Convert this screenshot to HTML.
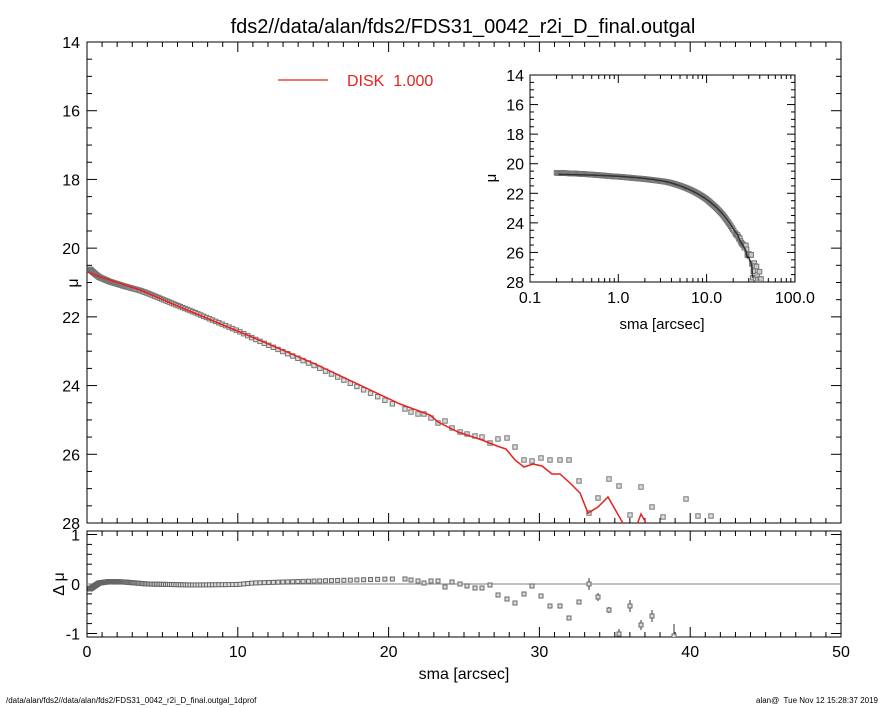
<!DOCTYPE html>
<html><head><meta charset="utf-8"><style>
html,body{margin:0;padding:0;background:#fff;}
svg{display:block;font-family:"Liberation Sans",Arial,sans-serif;}
</style></head><body>
<svg id="s" width="885" height="708" viewBox="0 0 885 708" xmlns="http://www.w3.org/2000/svg">
<defs>
<clipPath id="cm"><rect x="87" y="42" width="754" height="481"/></clipPath>
<clipPath id="ci"><rect x="530" y="75" width="265" height="207"/></clipPath>
<clipPath id="cr"><rect x="87" y="531" width="754" height="106"/></clipPath>
</defs>
<text x="463" y="33" font-size="20" text-anchor="middle">fds2//data/alan/fds2/FDS31_0042_r2i_D_final.outgal</text>
<g id="g"></g>
<line x1="278" y1="80" x2="328" y2="80" stroke="#e8211d" stroke-width="1.2"/>
<text x="347" y="86" font-size="16" fill="#e8211d">DISK&#160; 1.000</text>
<text x="6" y="703" font-size="8">/data/alan/fds2//data/alan/fds2/FDS31_0042_r2i_D_final.outgal_1dprof</text>
<text x="878" y="703" font-size="8" text-anchor="end">alan@&#160; Tue Nov 12 15:28:37 2019</text>
<text x="464" y="679" font-size="16" text-anchor="middle">sma [arcsec]</text>
<text x="662" y="329" font-size="15" text-anchor="middle">sma [arcsec]</text>
<text transform="translate(78,283) rotate(-90)" font-size="16" text-anchor="middle">μ</text>
<text transform="translate(496,178) rotate(-90)" font-size="15" text-anchor="middle">μ</text>
<text transform="translate(64,584) rotate(-90)" font-size="16" text-anchor="middle">Δ μ</text>
</svg>
<script>
var G=document.getElementById("g"),out="";
function L(a,b,c,d,w,col){out+='<line x1="'+a+'" y1="'+b+'" x2="'+c+'" y2="'+d+'" stroke="'+(col||"#000")+'" stroke-width="'+(w||1)+'"/>';}
function T(x,y,t,fs,anc){out+='<text x="'+x+'" y="'+y+'" font-size="'+fs+'" text-anchor="'+(anc||"middle")+'">'+t+'</text>';}
function interp(tab,x){if(x<=tab[0][0])return tab[0][1];for(var i=1;i<tab.length;i++){if(x<=tab[i][0]){var a=tab[i-1],b=tab[i];return a[1]+(b[1]-a[1])*(x-a[0])/(b[0]-a[0]);}}return tab[tab.length-1][1];}
out+='<rect x="87" y="42" width="754" height="481" fill="none" stroke="#000" stroke-width="1"/>';
for(var v=14;v<=28;v+=0.5){var y=42+(v-14)*34.357;var maj=(v%2==0);var l=maj?10:5;L(87,y,87+l,y);L(841,y,841-l,y);if(maj)T(80,y+6,v,16,"end");}
for(var s=0;s<=50;s++){var x=87+s*15.08;var maj=(s%10==0);var l=maj?10:5;L(x,523,x,523-l);L(x,42,x,42+l);L(x,531,x,531+l);L(x,637,x,637-l);if(maj)T(x,657,s,16);}
out+='<rect x="87" y="531" width="754" height="106" fill="none" stroke="#000" stroke-width="1"/>';
for(var v=-1;v<=1.001;v+=0.2){var y=584-v*49.5;var maj=Math.abs(v-Math.round(v))<0.01;var l=maj?10:5;L(87,y,87+l,y);L(841,y,841-l,y);if(maj)T(80,y+6,Math.round(v),16,"end");}
L(87,584,841,584,1.2,"#999");
var red=[[88,272],[95,275],[140,290],[180,307],[247,335],[313,363],[400,404],[430,415],[438,422],[458,432],[482,440],[497,446],[506,449],[515,460],[524,467],[533,464],[542,466],[552,474],[560,474],[570,483],[580,493],[588,513],[598,507],[608,497],[620,518],[627,530],[635,530],[641,514],[650,530]];
var resT=[[0.2,-0.1],[0.4,-0.06],[0.8,0.02],[1.5,0.05],[2.5,0.04],[4,0],[7,-0.02],[10,-0.01],[11,0.02],[14,0.05],[20,0.1],[21,0.1]];
var pts=[],res=[];
for(var s=0.2;s<20.7;s*=1.025){var x=87+15.08*s;var r=interp(resT,s);pts.push([x,interp(red,x)+r*34.36]);res.push([x,584-r*49.5,0]);}
var tail=[[405,409],[411,412],[418,414],[424,414],[431,418],[438,423],[445,421],[452,428],[460,432],[467,434],[475,436],[482,437],[490,443],[498,439],[507,438],[515,447],[524,460],[532,461],[541,458],[550,460],[560,460],[569,460],[579,481],[589,513],[598,498],[609,479],[619,486],[630,515],[641,487],[652,507],[663,517],[686,499],[698,516],[711,516]];
pts=pts.concat(tail);
var rt=[[405,579],[411,580],[418,581],[424,583],[431,581],[438,581],[445,587],[452,582],[460,584],[467,586],[475,588],[482,588],[490,585],[498,595],[507,599],[515,603],[524,594],[532,586],[541,596],[550,606],[560,606],[569,618],[579,602],[589,584,6],[598,597,4],[609,610,3],[619,634,5],[630,606,6],[641,625,5],[652,616,6],[674,636,12]];
rt.forEach(function(p){res.push([p[0],p[1],p[2]||0]);});
var m="";
pts.forEach(function(p){m+='<rect x="'+(p[0]-2.2)+'" y="'+(p[1]-2.2)+'" width="4.4" height="4.4" fill="#ddd" stroke="#777" stroke-width="1"/>';});
out+='<g clip-path="url(#cm)">'+m;
out+='<polyline fill="none" stroke="#e8211d" stroke-width="1.5" points="'+red.map(function(p){return p.join(",")}).join(" ")+'"/></g>';
var rr="";
res.forEach(function(p){if(p[2])rr+='<line x1="'+p[0]+'" y1="'+(p[1]-p[2])+'" x2="'+p[0]+'" y2="'+(p[1]+p[2])+'" stroke="#333"/>';rr+='<rect x="'+(p[0]-2)+'" y="'+(p[1]-2)+'" width="4" height="4" fill="#ddd" stroke="#666" stroke-width="1"/>';});
out+='<g clip-path="url(#cr)">'+rr+'</g>';
out+='<rect x="530" y="75" width="265" height="207" fill="#fff" stroke="#000" stroke-width="1"/>';
for(var v=14;v<=28;v+=0.5){var y=75+(v-14)*14.786;var maj=(v%2==0);var l=maj?8:4;L(530,y,530+l,y);L(795,y,795-l,y);if(maj)T(524,y+6,v,16,"end");}
var labs=["0.1","1.0","10.0","100.0"];
for(var d=0;d<3;d++)for(var k=1;k<10;k++){var x=530+88.3*(d+Math.log10(k));var l=k==1?8:4;L(x,282,x,282-l);L(x,75,x,75+l);}
for(var d=0;d<4;d++){var x=530+88.3*d;T(x,303,labs[d],16);if(d==3){L(x,282,x,274);L(x,75,x,83);}}
var im="";
pts.forEach(function(p){var s=(p[0]-87)/15.08;var mu=14+(p[1]-42)/34.357;var x=530+88.3*Math.log10(s/0.1);var y=75+(mu-14)*14.786;im+='<rect x="'+(x-2.3)+'" y="'+(y-2.3)+'" width="4.6" height="4.6" fill="#ccc" stroke="#777" stroke-width="1"/>';});
var ln=[];for(var x=87+15.08*0.21;x<=590;x+=3){var s=(x-87)/15.08;var mu=14+(interp(red,x)-42)/34.357;ln.push((530+88.3*Math.log10(s/0.1)).toFixed(1)+","+(75+(mu-14)*14.786).toFixed(1));}
out+='<g clip-path="url(#ci)">'+im+'<polyline fill="none" stroke="#333" stroke-width="1.5" points="'+ln.join(" ")+'"/></g>';
G.innerHTML=out;
</script>
</body></html>
